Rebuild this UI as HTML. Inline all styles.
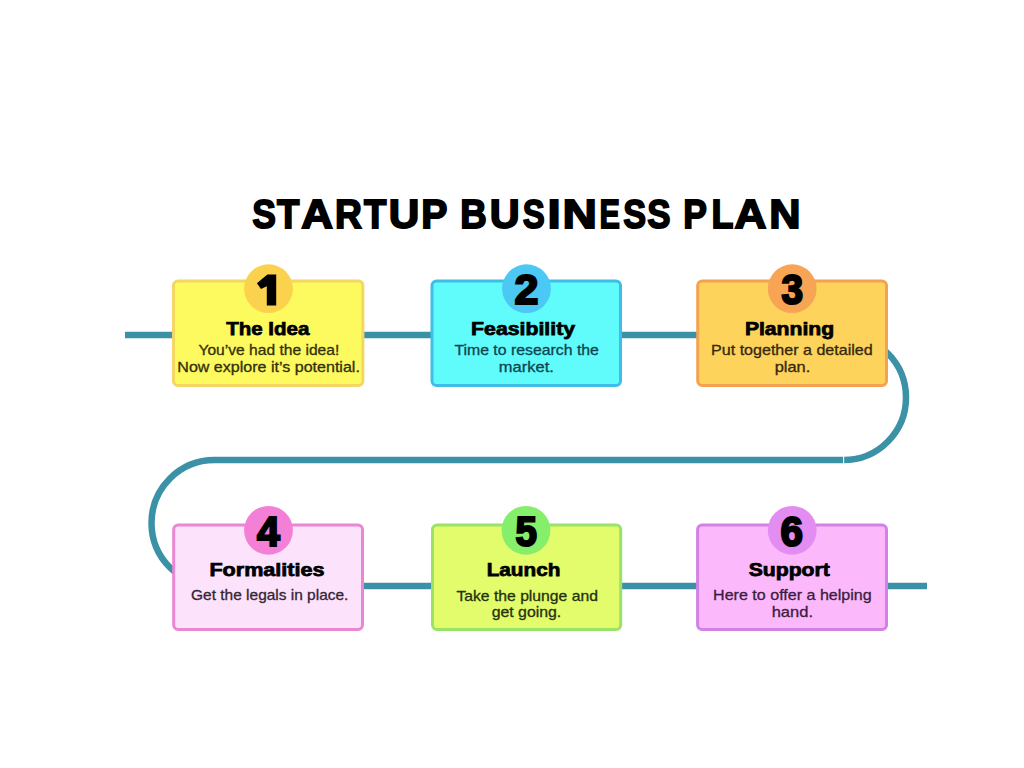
<!DOCTYPE html>
<html><head><meta charset="utf-8"><title>Startup Business Plan</title>
<style>html,body{margin:0;padding:0;background:#fff;width:1024px;height:768px;overflow:hidden;font-family:"Liberation Sans",sans-serif;}svg{display:block;}</style>
</head><body>
<svg width="1024" height="768" viewBox="0 0 1024 768">
<rect width="1024" height="768" fill="#ffffff"/>
<path d="M125,335 L843.5,335 A62.5,62.5 0 0 1 843.5,460 L214.5,460 A62.5,62.5 0 0 0 214.5,586 L927,586" fill="none" stroke="#3b92a7" stroke-width="6.5"/>
<rect x="843" y="455" width="1.2" height="9" fill="#e8f6f8"/>
<rect x="173.5" y="281.1" width="189.40" height="104.40" rx="4.5" ry="4.5" fill="#fdfa5f" stroke="#f3d663" stroke-width="3"/>
<circle cx="268.5" cy="288.7" r="24.4" fill="#fbd24e"/>
<path d="M276.2,274.6 L276.2,305.6 L266.8,305.6 L266.8,286.2 L261.0,289.0 L256.9,283.3 L267.4,274.6 Z" fill="#000"/>
<text x="267.72" y="335.3" text-anchor="middle" textLength="83.15" lengthAdjust="spacingAndGlyphs" font-family="Liberation Sans" font-weight="bold" font-size="18.5" fill="#000" stroke="#000" stroke-width="0.75">The Idea</text>
<text x="268.87" y="354.5" text-anchor="middle" textLength="140.85" lengthAdjust="spacingAndGlyphs" font-family="Liberation Sans" font-size="14.4" fill="#33300a" stroke="#33300a" stroke-width="0.3">You’ve had the idea!</text>
<text x="268.60" y="372.1" text-anchor="middle" textLength="182.60" lengthAdjust="spacingAndGlyphs" font-family="Liberation Sans" font-size="14.4" fill="#33300a" stroke="#33300a" stroke-width="0.3">Now explore it’s potential.</text>
<rect x="432.0" y="281.1" width="188.50" height="104.40" rx="4.5" ry="4.5" fill="#60fcfc" stroke="#3fbde6" stroke-width="3"/>
<circle cx="526.5" cy="288.7" r="24.4" fill="#4cc8f4"/>
<text x="526.35" y="304.30" text-anchor="middle" textLength="23.90" lengthAdjust="spacingAndGlyphs" font-family="Liberation Sans" font-weight="bold" font-size="42" fill="#000" stroke="#000" stroke-width="2.2">2</text>
<text x="523.08" y="335.2" text-anchor="middle" textLength="103.95" lengthAdjust="spacingAndGlyphs" font-family="Liberation Sans" font-weight="bold" font-size="18.5" fill="#000" stroke="#000" stroke-width="0.75">Feasibility</text>
<text x="526.65" y="354.6" text-anchor="middle" textLength="144.50" lengthAdjust="spacingAndGlyphs" font-family="Liberation Sans" font-size="14.4" fill="#0c4550" stroke="#0c4550" stroke-width="0.3">Time to research the</text>
<text x="526.32" y="371.9" text-anchor="middle" textLength="54.95" lengthAdjust="spacingAndGlyphs" font-family="Liberation Sans" font-size="14.4" fill="#0c4550" stroke="#0c4550" stroke-width="0.3">market.</text>
<rect x="697.7" y="281.1" width="188.80" height="104.40" rx="4.5" ry="4.5" fill="#fdd35c" stroke="#f2a250" stroke-width="3"/>
<circle cx="792.2" cy="288.7" r="24.4" fill="#f7a455"/>
<text x="792.21" y="304.30" text-anchor="middle" textLength="21.58" lengthAdjust="spacingAndGlyphs" font-family="Liberation Sans" font-weight="bold" font-size="42" fill="#000" stroke="#000" stroke-width="2.2">3</text>
<text x="789.52" y="335.3" text-anchor="middle" textLength="89.25" lengthAdjust="spacingAndGlyphs" font-family="Liberation Sans" font-weight="bold" font-size="18.5" fill="#000" stroke="#000" stroke-width="0.75">Planning</text>
<text x="791.90" y="354.5" text-anchor="middle" textLength="161.60" lengthAdjust="spacingAndGlyphs" font-family="Liberation Sans" font-size="14.4" fill="#36280a" stroke="#36280a" stroke-width="0.3">Put together a detailed</text>
<text x="792.45" y="372.1" text-anchor="middle" textLength="35.60" lengthAdjust="spacingAndGlyphs" font-family="Liberation Sans" font-size="14.4" fill="#36280a" stroke="#36280a" stroke-width="0.3">plan.</text>
<rect x="173.7" y="524.9" width="188.80" height="104.60" rx="4.5" ry="4.5" fill="#fde2fb" stroke="#e987d3" stroke-width="3"/>
<circle cx="268.5" cy="530.3" r="24.4" fill="#f380d6"/>
<text x="268.30" y="546.00" text-anchor="middle" textLength="22.80" lengthAdjust="spacingAndGlyphs" font-family="Liberation Sans" font-weight="bold" font-size="42" fill="#000" stroke="#000" stroke-width="2.2">4</text>
<text x="267.00" y="576.0" text-anchor="middle" textLength="115.10" lengthAdjust="spacingAndGlyphs" font-family="Liberation Sans" font-weight="bold" font-size="18.5" fill="#000" stroke="#000" stroke-width="0.75">Formalities</text>
<text x="269.75" y="600.2" text-anchor="middle" textLength="157.30" lengthAdjust="spacingAndGlyphs" font-family="Liberation Sans" font-size="14.4" fill="#352535" stroke="#352535" stroke-width="0.3">Get the legals in place.</text>
<rect x="432.5" y="524.9" width="188.20" height="104.60" rx="4.5" ry="4.5" fill="#e3fc6c" stroke="#9ae26a" stroke-width="3"/>
<circle cx="526.0" cy="530.3" r="24.4" fill="#85ee6a"/>
<text x="526.27" y="546.00" text-anchor="middle" textLength="21.45" lengthAdjust="spacingAndGlyphs" font-family="Liberation Sans" font-weight="bold" font-size="42" fill="#000" stroke="#000" stroke-width="2.2">5</text>
<text x="523.52" y="576.1" text-anchor="middle" textLength="73.65" lengthAdjust="spacingAndGlyphs" font-family="Liberation Sans" font-weight="bold" font-size="18.5" fill="#000" stroke="#000" stroke-width="0.75">Launch</text>
<text x="527.15" y="600.5" text-anchor="middle" textLength="141.50" lengthAdjust="spacingAndGlyphs" font-family="Liberation Sans" font-size="14.4" fill="#25320c" stroke="#25320c" stroke-width="0.3">Take the plunge and</text>
<text x="526.45" y="617.4" text-anchor="middle" textLength="69.60" lengthAdjust="spacingAndGlyphs" font-family="Liberation Sans" font-size="14.4" fill="#25320c" stroke="#25320c" stroke-width="0.3">get going.</text>
<rect x="697.6" y="524.9" width="188.90" height="104.60" rx="4.5" ry="4.5" fill="#fbb9fb" stroke="#d182e2" stroke-width="3"/>
<circle cx="792.2" cy="530.3" r="24.4" fill="#e38cf2"/>
<text x="791.76" y="546.00" text-anchor="middle" textLength="22.48" lengthAdjust="spacingAndGlyphs" font-family="Liberation Sans" font-weight="bold" font-size="42" fill="#000" stroke="#000" stroke-width="2.2">6</text>
<text x="789.23" y="575.6" text-anchor="middle" textLength="81.15" lengthAdjust="spacingAndGlyphs" font-family="Liberation Sans" font-weight="bold" font-size="18.5" fill="#000" stroke="#000" stroke-width="0.75">Support</text>
<text x="792.40" y="600.4" text-anchor="middle" textLength="158.60" lengthAdjust="spacingAndGlyphs" font-family="Liberation Sans" font-size="14.4" fill="#3c1c42" stroke="#3c1c42" stroke-width="0.3">Here to offer a helping</text>
<text x="792.35" y="617.4" text-anchor="middle" textLength="41.30" lengthAdjust="spacingAndGlyphs" font-family="Liberation Sans" font-size="14.4" fill="#3c1c42" stroke="#3c1c42" stroke-width="0.3">hand.</text>
<g font-family="Liberation Sans" font-weight="bold" fill="#000" stroke="#000"><text transform="translate(252.26,228.4) scale(0.8648,1)" font-size="41" stroke-width="1.8">S</text><text transform="translate(277.09,228.4) scale(0.8942,1)" font-size="41" stroke-width="1.8">T</text><text transform="translate(301.17,228.4) scale(1.0714,1)" font-size="41" stroke-width="1.8">A</text><text transform="translate(335.12,228.4) scale(0.9092,1)" font-size="41" stroke-width="1.8">R</text><text transform="translate(363.89,228.4) scale(0.8942,1)" font-size="41" stroke-width="1.8">T</text><text transform="translate(388.69,228.4) scale(1.0324,1)" font-size="41" stroke-width="1.8">U</text><text transform="translate(421.34,228.4) scale(0.9559,1)" font-size="41" stroke-width="1.8">P</text><text transform="translate(460.35,228.4) scale(0.8954,1)" font-size="41" stroke-width="1.8">B</text><text transform="translate(489.82,228.4) scale(1.0097,1)" font-size="41" stroke-width="1.8">U</text><text transform="translate(522.77,228.4) scale(0.8041,1)" font-size="41" stroke-width="1.8">S</text><text transform="translate(547.47,228.4) scale(1.1550,1)" font-size="41" stroke-width="1.8">I</text><text transform="translate(562.56,228.4) scale(1.1620,1)" font-size="41" stroke-width="1.8">N</text><text transform="translate(599.53,228.4) scale(0.7459,1)" font-size="41" stroke-width="1.8">E</text><text transform="translate(623.27,228.4) scale(0.8345,1)" font-size="41" stroke-width="1.8">S</text><text transform="translate(647.26,228.4) scale(0.8496,1)" font-size="41" stroke-width="1.8">S</text><text transform="translate(683.21,228.4) scale(0.8639,1)" font-size="41" stroke-width="1.8">P</text><text transform="translate(711.39,228.4) scale(0.8756,1)" font-size="41" stroke-width="1.8">L</text><text transform="translate(734.47,228.4) scale(1.0782,1)" font-size="41" stroke-width="1.8">A</text><text transform="translate(769.15,228.4) scale(1.0578,1)" font-size="41" stroke-width="1.8">N</text></g>
</svg>
</body></html>
